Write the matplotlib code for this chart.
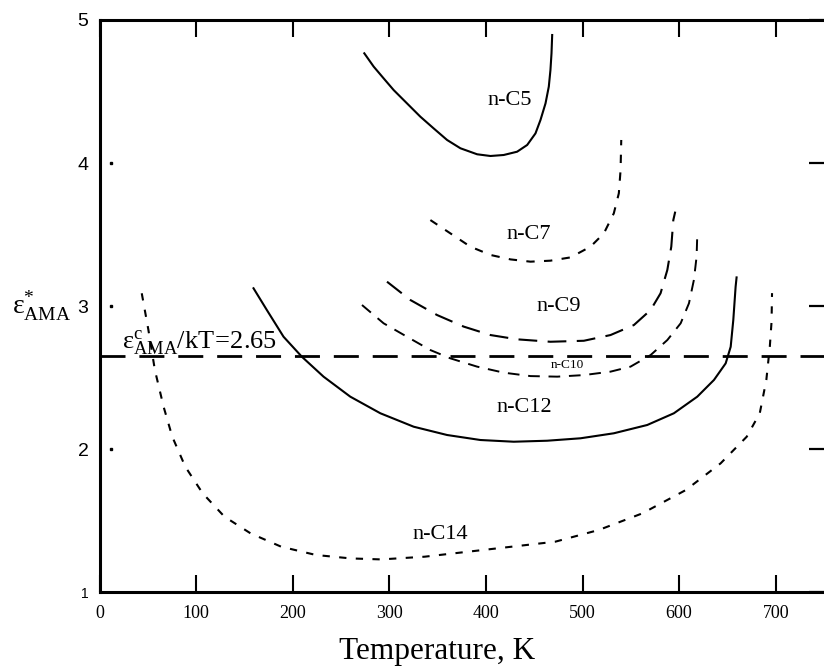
import matplotlib
matplotlib.use('Agg')
import matplotlib.pyplot as plt
import matplotlib.transforms as mtransforms

plt.rcParams['font.family'] = ['Liberation Serif', 'DejaVu Serif']
plt.rcParams['mathtext.fontset'] = 'custom'
plt.rcParams['mathtext.rm'] = 'Liberation Serif'
plt.rcParams['mathtext.it'] = 'Liberation Serif'
plt.rcParams['mathtext.bf'] = 'Liberation Serif:bold'

# curve data (T in K, epsilon*)
c5_T = [274.1, 283.8, 294.1, 304.5, 318.3, 332.1, 345.9, 359.8, 373.6, 390.9, 404.7,
        418.4, 432.3, 442.7, 451.3, 456.5, 461.7, 465.1, 466.8, 467.9, 468.6]
c5_E = [4.767, 4.674, 4.592, 4.510, 4.417, 4.324, 4.242, 4.161, 4.103, 4.061, 4.049,
        4.056, 4.079, 4.126, 4.207, 4.301, 4.417, 4.534, 4.650, 4.767, 4.895]

c7_T = [342.5, 363.2, 383.9, 404.7, 425.4, 446.1, 466.8, 487.6, 508.3, 522.1,
        532.4, 537.6, 539.4, 540.1]
c7_E = [3.601, 3.508, 3.415, 3.357, 3.326, 3.310, 3.317, 3.340, 3.415, 3.508,
        3.648, 3.788, 3.951, 4.161]

c9_T = [297.6, 321.8, 349.4, 377.0, 404.7, 432.3, 466.8, 501.4, 529.0, 553.2,
        570.5, 580.8, 587.8, 591.9, 594.0, 596.0]
c9_E = [3.170, 3.042, 2.937, 2.856, 2.797, 2.767, 2.750, 2.757, 2.797, 2.867,
        2.972, 3.089, 3.252, 3.415, 3.601, 3.660]

c10_T = [271.7, 294.1, 318.3, 342.5, 363.2, 390.9, 418.4, 446.1, 473.8, 501.4,
         529.0, 549.7, 570.5, 587.8, 601.6, 610.2, 615.3, 618.1, 618.8]
c10_E = [3.007, 2.879, 2.785, 2.692, 2.634, 2.576, 2.534, 2.510, 2.506, 2.517,
         2.541, 2.576, 2.657, 2.762, 2.879, 3.019, 3.182, 3.345, 3.497]

c12_T = [159.4, 173.2, 190.5, 209.5, 231.9, 259.6, 290.7, 325.2, 359.8, 394.3,
         428.8, 463.4, 497.9, 532.4, 567.0, 594.6, 618.8, 636.1, 648.2, 653.4,
         656.1, 658.5, 659.5]
c12_E = [3.124, 2.972, 2.785, 2.645, 2.506, 2.366, 2.250, 2.156, 2.098, 2.063,
         2.051, 2.058, 2.075, 2.110, 2.168, 2.250, 2.366, 2.483, 2.599, 2.715,
         2.902, 3.135, 3.200]

c14_T = [43.7, 50.6, 57.3, 66.3, 75.3, 88.8, 106.8, 129.3, 156.4, 188.0, 224.0,
         260.0, 291.6, 336.6, 381.6, 426.7, 471.8, 516.9, 561.9, 606.9, 643.0,
         670.0, 683.5, 690.3, 693.9, 695.7, 696.2]
c14_E = [3.089, 2.832, 2.552, 2.296, 2.086, 1.876, 1.690, 1.527, 1.410, 1.317, 1.259,
         1.235, 1.228, 1.247, 1.282, 1.317, 1.352, 1.434, 1.550, 1.713, 1.900,
         2.086, 2.250, 2.483, 2.715, 2.890, 3.090]

crit_E = 2.65

x_ticks = [0, 100, 200, 300, 400, 500, 600, 700]
x_labels = ['0', '100', '200', '300', '400', '500', '600', '700']
y_ticks = [1, 2, 3, 4, 5]
y_labels = ['1', '2', '3', '4', '5']

fig = plt.figure(figsize=(8.24, 6.71), dpi=100)
ax = fig.add_axes([0.1208, 0.1177, 0.8792, 0.8525])

ax.plot(c5_T, c5_E, color='black', lw=1.5)
ax.plot(c7_T, c7_E, color='black', lw=1.5, dashes=(4, 4.5))
ax.plot(c9_T, c9_E, color='black', lw=1.5, dashes=(9, 5))
ax.plot(c10_T, c10_E, color='black', lw=1.4, dashes=(6, 4.5))
ax.plot(c12_T, c12_E, color='black', lw=1.5)
ax.plot(c14_T, c14_E, color='black', lw=1.5, dashes=(3.5, 4.5))
ax.axhline(crit_E, color='black', lw=2.0, dashes=(9, 5))

ax.text(425, 4.44, 'n-C5', fontsize=16, ha='center', va='center')
ax.text(444, 3.50, 'n-C7', fontsize=16, ha='center', va='center')
ax.text(475, 3.00, 'n-C9', fontsize=16, ha='center', va='center')
ax.text(484, 2.585, 'n-C10', fontsize=9.5, ha='center', va='center')
ax.text(440, 2.29, 'n-C12', fontsize=16, ha='center', va='center')
ax.text(353, 1.40, 'n-C14', fontsize=16, ha='center', va='center')
ax.text(23, 2.705, r'$\mathrm{\varepsilon^{c}_{AMA}/kT\!=\!2.65}$', fontsize=19,
        ha='left', va='baseline')

ax.set_xlim(0, 750)
ax.set_ylim(1, 5)

ax.set_xticks(x_ticks)
ax.set_xticklabels(x_labels, fontsize=13)
ax.set_yticks(y_ticks)
ax.set_yticklabels(y_labels, fontsize=14, family='Liberation Sans')
ax.get_yticklabels()[0].set_fontsize(10)
ax.tick_params(axis='x', direction='in', length=12, width=1.5, pad=9,
               top=True)
ax.tick_params(axis='y', direction='in', length=0, pad=8, right=True)
for t in ax.yaxis.get_major_ticks():
    t.tick2line.set_markersize(11)
    t.tick2line.set_markeredgewidth(1.6)

# faint left tick dots inside the frame
ax.plot([12] * 3, y_ticks[1:4], ls='none', marker='s', ms=2, color='black')

for s in ax.spines.values():
    s.set_linewidth(2.2)
ax.spines['right'].set_visible(False)

ax.set_xlabel('Temperature, K', fontsize=22.5, labelpad=11)
ax.xaxis.label.set_x(0.466)

trans = mtransforms.blended_transform_factory(ax.transAxes, ax.transData)
ax.text(-0.121, 3.0, r'$\mathrm{\varepsilon^{*}_{AMA}}$', fontsize=20,
        ha='left', va='center', transform=trans)

fig.savefig('out.png', dpi=100)
